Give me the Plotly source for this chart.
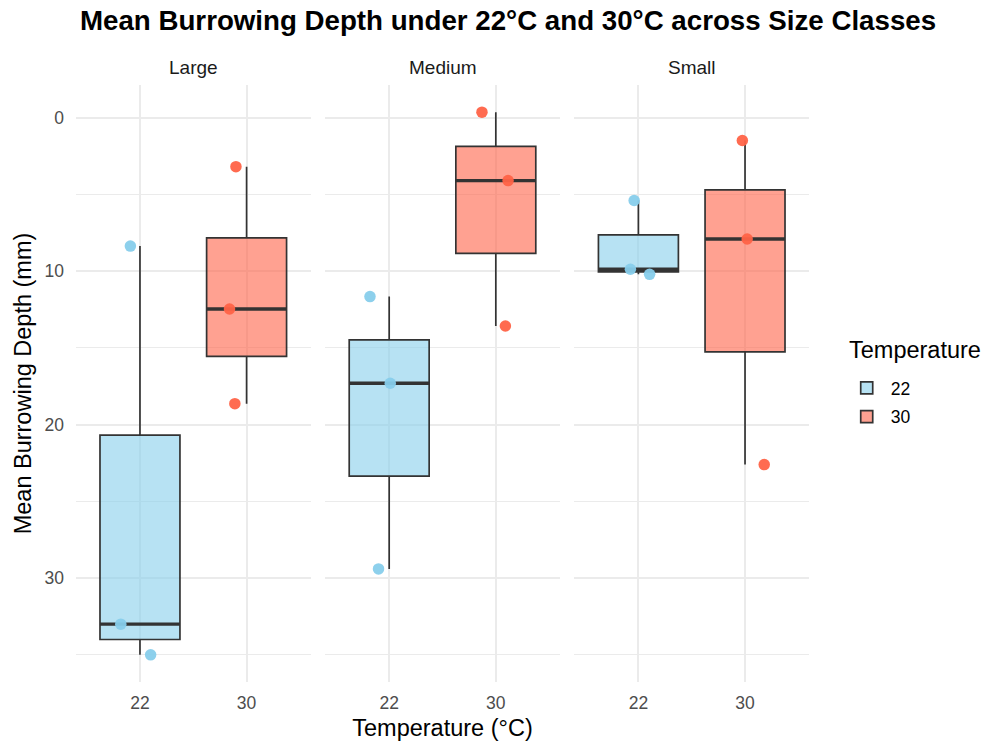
import numpy as np
import plotly.graph_objects as go
from plotly.subplots import make_subplots

# ---- data ----
size_classes = ["Large", "Medium", "Small"]
temperatures = ["22", "30"]
depth_large_22 = [8.36, 33.0, 35.0]
depth_large_30 = [3.18, 12.46, 18.63]
depth_medium_22 = [11.65, 17.3, 29.4]
depth_medium_30 = [-0.37, 4.09, 13.57]
depth_small_22 = [5.39, 9.87, 10.2]
depth_small_30 = [1.48, 7.9, 22.6]
# horizontal jitter (category units)
jitter_large_22 = [-0.09, -0.18, 0.10]
jitter_large_30 = [-0.10, -0.16, -0.11]
jitter_medium_22 = [-0.18, 0.01, -0.10]
jitter_medium_30 = [-0.13, 0.115, 0.09]
jitter_small_22 = [-0.04, -0.075, 0.105]
jitter_small_30 = [-0.025, 0.02, 0.18]

data = {
    "Large": {"22": (depth_large_22, jitter_large_22), "30": (depth_large_30, jitter_large_30)},
    "Medium": {"22": (depth_medium_22, jitter_medium_22), "30": (depth_medium_30, jitter_medium_30)},
    "Small": {"22": (depth_small_22, jitter_small_22), "30": (depth_small_30, jitter_small_30)},
}

fill = {"22": "rgba(135,206,235,0.6)", "30": "rgba(255,99,71,0.6)"}
pt = {"22": "#87CEEB", "30": "#FF6347"}
line_col = "#333333"
BOXW = 0.75

fig = make_subplots(rows=1, cols=3, shared_yaxes=True, horizontal_spacing=0.02)

for ci, sc in enumerate(size_classes):
    col = ci + 1
    for ti, t in enumerate(temperatures):
        xpos = ti + 1
        vals, jit = data[sc][t]
        v = np.array(vals)
        q1, med, q3 = np.percentile(v, [25, 50, 75])
        iqr = q3 - q1
        lo = v[v >= q1 - 1.5 * iqr].min()
        hi = v[v <= q3 + 1.5 * iqr].max()
        fig.add_trace(go.Box(
            x=[xpos], q1=[q1], median=[med], q3=[q3], lowerfence=[lo], upperfence=[hi],
            width=BOXW, fillcolor=fill[t], line=dict(color=line_col, width=1.7),
            whiskerwidth=0, boxpoints=False, name=t, legendgroup=t,
            showlegend=(ci == 0), hoverinfo="skip",
        ), row=1, col=col)
        fig.add_trace(go.Scatter(
            x=[xpos - BOXW / 2, xpos + BOXW / 2], y=[med, med], mode="lines",
            line=dict(color=line_col, width=3.4), showlegend=False, hoverinfo="skip",
        ), row=1, col=col)
        fig.add_trace(go.Scatter(
            x=[xpos + j for j in jit], y=vals, mode="markers",
            marker=dict(color=pt[t], size=11.5, opacity=0.95, line=dict(width=0)),
            showlegend=False, legendgroup=t, hoverinfo="skip",
        ), row=1, col=col)

grid = "#ebebeb"
for ci in range(3):
    fig.update_xaxes(
        row=1, col=ci + 1, range=[0.4, 2.6], tickvals=[1, 2], ticktext=temperatures,
        showgrid=True, gridcolor=grid, gridwidth=1.6, zeroline=False, showline=False,
        ticks="", tickfont=dict(size=17.5, color="#4d4d4d"), automargin=False,
        ticklabelstandoff=8,
    )
fig.update_yaxes(
    range=[36.77, -2.14], tickvals=[0, 10, 20, 30], showgrid=True, gridcolor=grid,
    gridwidth=1.6, zeroline=False, showline=False, ticks="", automargin=False,
    minor=dict(tickvals=[5, 15, 25, 35], showgrid=True, gridcolor=grid, gridwidth=1.0),
    tickfont=dict(size=17.5, color="#4d4d4d"), ticklabelstandoff=11,
)
fig.update_yaxes(title=dict(text="Mean Burrowing Depth (mm)", font=dict(size=23.5, color="black"), standoff=6), row=1, col=1)
fig.update_xaxes(title=dict(text="Temperature (°C)", font=dict(size=23.5, color="black"), standoff=8), row=1, col=2)

for ci, sc in enumerate(size_classes):
    dom = fig.layout["xaxis" + ("" if ci == 0 else str(ci + 1))].domain
    fig.add_annotation(x=(dom[0] + dom[1]) / 2, y=1, xref="paper", yref="paper",
                       xanchor="center", yanchor="middle", yshift=18, text=sc, showarrow=False,
                       font=dict(size=19, color="#1a1a1a"))

# legend title as annotation
fig.add_annotation(x=1.0, y=1, xref="paper", yref="paper", xanchor="left", yanchor="middle",
                   xshift=38, yshift=-(350 - 85), text="Temperature", showarrow=False,
                   font=dict(size=23.5, color="black"))

fig.update_layout(
    width=989, height=745,
    margin=dict(l=76, r=180, t=85, b=63),
    paper_bgcolor="white", plot_bgcolor="white",
    font=dict(family="Liberation Sans, Arial, sans-serif"),
    title=dict(text="<b>Mean Burrowing Depth under 22°C and 30°C across Size Classes</b>",
               x=0.5137, xanchor="center", y=0.973, yanchor="middle",
               font=dict(size=27.7, color="black")),
    legend=dict(x=1.046, y=0.5227, yanchor="top", xanchor="left", itemwidth=38,
                font=dict(size=17.5, color="black"), tracegroupgap=3),
)

fig.write_html("out.html")
